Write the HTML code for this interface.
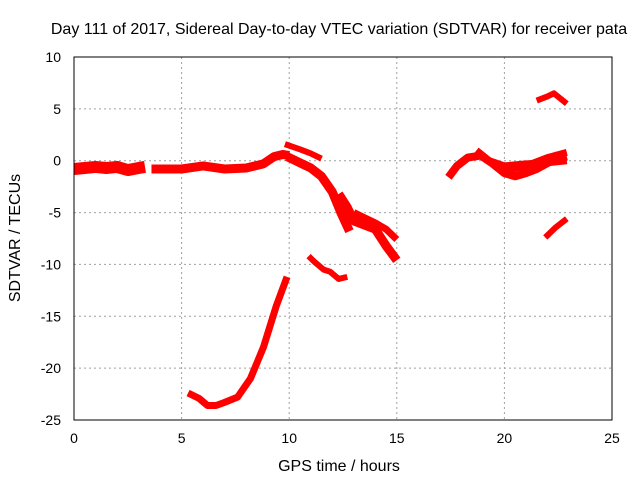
<!DOCTYPE html>
<html><head><meta charset="utf-8"><style>
body{margin:0;background:#fff}
svg text{font-family:"Liberation Sans",sans-serif;font-size:14px;fill:#000}
svg text.big{font-size:16px}
</style></head><body>
<svg id="chart" width="640" height="480" xmlns="http://www.w3.org/2000/svg">
<rect width="640" height="480" fill="#fff"/>
<text class="big" x="339" y="34" text-anchor="middle">Day 111 of 2017, Sidereal Day-to-day VTEC variation (SDTVAR) for receiver pata</text>
<g id="grid"></g>
<g id="series"></g>
<rect x="74" y="57" width="538" height="363" fill="none" stroke="#000" stroke-width="1"/>
<g id="ticks"></g>
<text class="big" x="339" y="471" text-anchor="middle">GPS time / hours</text>
<text class="big" transform="translate(20,238) rotate(-90)" text-anchor="middle">SDTVAR / TECUs</text>
</svg>
<script>
const xTicks=[0,5,10,15,20,25];
const yTicks=[10,5,0,-5,-10,-15,-20,-25];
const seriesNames=["band-early","band-morning","branch-upper","branch-mid","branch-low","branch-low2","curve-rise","trace-dip","evening-a","evening-b","evening-c","trace-high","trace-low"];
const seriesHours=[
[0,0.5,1,1.5,2,2.5,3,3.3],
[3.6,4.5,5,6,7,8,8.8,9.3,9.7,10],
[9.8,10.5,11,11.5],
[9.9,10.5,11,11.5,12,12.4,12.8],
[12.3,12.7,13,13.5,14,14.5,15],
[13,13.5,14,14.5,15],
[5.3,5.8,6.2,6.6,7,7.6,8.2,8.8,9.4,9.9],
[10.9,11.2,11.6,11.9,12.3,12.7],
[17.4,17.8,18.3,18.9,19.4,20,20.5,21,21.5,22.2,22.9],
[18.7,19.3,20,21,22,22.9],
[20,21,22,22.9],
[21.5,22,22.3,22.9],
[21.9,22.4,22.9]
];
const seriesValues=[
[-0.8,-0.7,-0.6,-0.7,-0.6,-0.9,-0.7,-0.6],
[-0.8,-0.8,-0.8,-0.5,-0.8,-0.7,-0.3,0.4,0.6,0.5],
[1.6,1.1,0.7,0.2],
[0.4,-0.2,-0.7,-1.5,-3,-5,-6.8],
[-3.2,-4.5,-5.8,-6.2,-6.6,-8.2,-9.6],
[-5,-5.5,-6,-6.6,-7.6],
[-22.4,-22.9,-23.6,-23.6,-23.3,-22.8,-21,-18,-14,-11.2],
[-9.2,-9.8,-10.5,-10.7,-11.4,-11.2],
[-1.6,-0.5,0.3,0.5,-0.2,-1.2,-1.5,-1.2,-0.8,0,0.4],
[1,0,-0.5,-0.3,-0.2,0],
[-1,-0.5,0.3,0.8],
[5.8,6.2,6.5,5.5],
[-7.4,-6.4,-5.6]
];
const seriesWidths=[12,9,6,9,9,7,7,6,8,7,7,6,6];
const NS="http://www.w3.org/2000/svg";
const X=h=>74+h/25*538;
const Y=v=>57+(10-v)/35*363;
const grid=document.getElementById('grid'),ticks=document.getElementById('ticks'),ser=document.getElementById('series');
xTicks.forEach(t=>{
 if(t>0&&t<25){const l=document.createElementNS(NS,'line');
 
 
 l.setAttribute('x1',X(t));l.setAttribute('x2',X(t));l.setAttribute('y1',57);l.setAttribute('y2',420);
 l.setAttribute('stroke','#a0a0a0');l.setAttribute('stroke-dasharray','2,3');grid.appendChild(l);}
 const tx=document.createElementNS(NS,'text');
 
 
 tx.setAttribute('x',X(t));tx.setAttribute('y',443);tx.setAttribute('text-anchor','middle');tx.textContent=t;ticks.appendChild(tx);
});
yTicks.forEach(t=>{
 if(t<10&&t>-25){const l=document.createElementNS(NS,'line');
 
 
 l.setAttribute('x1',74);l.setAttribute('x2',612);l.setAttribute('y1',Y(t));l.setAttribute('y2',Y(t));
 l.setAttribute('stroke','#a0a0a0');l.setAttribute('stroke-dasharray','2,3');grid.appendChild(l);}
 const tx=document.createElementNS(NS,'text');
 
 
 tx.setAttribute('x',61);tx.setAttribute('y',Y(t)+5);tx.setAttribute('text-anchor','end');tx.textContent=t;ticks.appendChild(tx);
});
seriesHours.forEach((hs,i)=>{
 const p=document.createElementNS(NS,'polyline');
 
 
 p.setAttribute('points',hs.map((h,j)=>X(h)+','+Y(seriesValues[i][j])).join(' '));
 p.setAttribute('fill','none');p.setAttribute('stroke','#ff0000');
 p.setAttribute('stroke-width',seriesWidths[i]);p.setAttribute('stroke-linejoin','round');
 ser.appendChild(p);
});
</script>
</body></html>
